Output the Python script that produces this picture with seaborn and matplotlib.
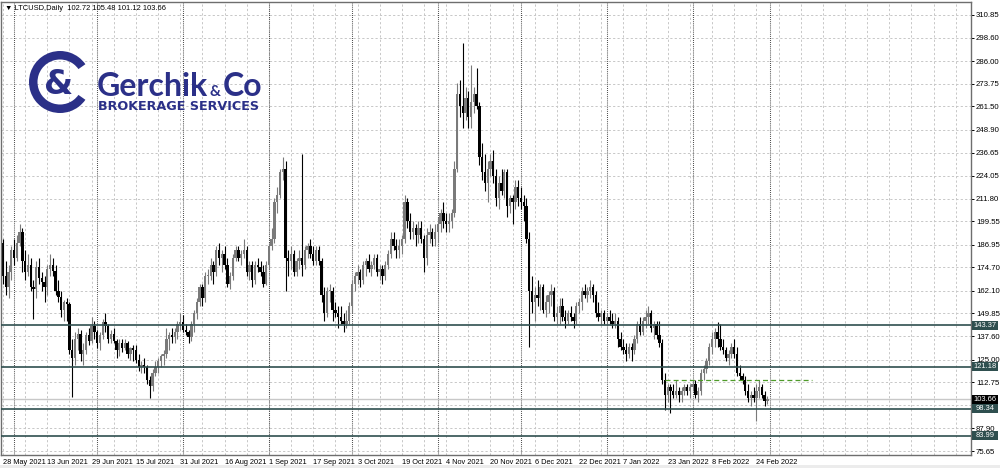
import numpy as np
import pandas as pd
import matplotlib
matplotlib.use("Agg")
import matplotlib.pyplot as plt
import seaborn as sns
from matplotlib.patches import Rectangle, Wedge
import matplotlib.transforms as mtrans

# ---------------- data ----------------
first_date = "2021-05-27"
first_open = 196.0

close_may = [188, 170, 164, 172, 184]
high_may = [200, 190, 178, 176, 186]
low_may = [186, 166, 160, 158, 168]

close_jun = [180, 188, 194, 178, 172, 176, 164, 163, 175, 169, 167, 164, 174, 176, 173,
             162, 159, 152, 156, 155, 130, 126, 136, 139, 128, 130, 138, 135, 143, 140]
high_jun = [190, 192, 198, 196, 184, 182, 180, 168, 178, 180, 172, 170, 176, 182, 180,
            176, 168, 162, 157, 158, 156, 136, 140, 142, 141, 134, 140, 142, 148, 146]
low_jun = [176, 178, 186, 172, 168, 170, 162, 147, 158, 166, 162, 156, 160, 170, 170,
           160, 156, 148, 146, 146, 128, 105, 122, 130, 124, 122, 128, 133, 134, 136]

close_jul = [134, 138, 145, 143, 136, 139, 135, 130, 134, 131, 134, 128, 131, 130, 125,
             121, 122, 121, 114, 111, 118, 121, 124, 127, 128, 136, 138, 137, 140, 144, 145]
high_jul = [141, 140, 147, 150, 144, 141, 142, 136, 136, 136, 136, 135, 132, 133, 133,
            128, 124, 126, 122, 116, 120, 124, 126, 128, 130, 142, 140, 142, 142, 146, 150]
low_jul = [131, 130, 136, 140, 134, 134, 134, 126, 127, 129, 130, 126, 125, 124, 123,
           119, 118, 118, 112, 104, 108, 116, 118, 121, 122, 126, 130, 134, 134, 136, 141]

close_aug = [141, 140, 137, 144, 150, 156, 164, 158, 170, 170, 176, 172, 184, 180, 182,
             176, 166, 170, 180, 184, 180, 182, 184, 172, 176, 168, 176, 175, 172, 166, 176]
high_aug = [149, 144, 141, 146, 152, 158, 166, 166, 172, 174, 180, 178, 186, 188, 184,
            186, 180, 172, 182, 186, 186, 184, 190, 186, 178, 178, 178, 180, 178, 176, 178]
low_aug = [140, 138, 134, 135, 140, 147, 154, 154, 156, 166, 168, 166, 170, 176, 172,
           174, 164, 163, 168, 178, 178, 176, 180, 170, 168, 164, 166, 172, 170, 164, 165]

close_sep = [186, 190, 210, 214, 226, 228, 180, 178, 182, 172, 178, 180, 176, 184, 186,
             182, 178, 184, 178, 160, 150, 162, 162, 152, 150, 148, 146, 144, 146, 154]
high_sep = [188, 196, 212, 218, 228, 234, 232, 184, 186, 184, 180, 184, 236, 186, 188,
            190, 186, 186, 186, 180, 164, 164, 166, 164, 156, 154, 154, 150, 152, 156]
low_sep = [174, 184, 188, 204, 212, 222, 162, 170, 174, 170, 170, 174, 170, 174, 180,
           180, 176, 176, 176, 156, 146, 148, 156, 146, 148, 142, 144, 140, 142, 144]

close_oct = [166, 170, 172, 168, 176, 178, 174, 176, 180, 172, 174, 170, 176, 182, 190,
             186, 184, 186, 190, 210, 200, 194, 196, 192, 196, 190, 180, 192, 194, 190, 194]
high_oct = [168, 172, 176, 174, 178, 180, 182, 178, 182, 182, 176, 176, 178, 184, 194,
            194, 190, 190, 192, 214, 212, 204, 200, 198, 200, 200, 192, 196, 198, 196, 198]
low_oct = [150, 162, 166, 164, 166, 170, 172, 170, 174, 170, 168, 166, 168, 174, 180,
           184, 180, 180, 182, 188, 196, 190, 190, 186, 188, 188, 172, 176, 188, 186, 186]

close_nov = [198, 204, 200, 198, 200, 204, 228, 268, 262, 258, 266, 256, 264, 268, 262,
             234, 226, 220, 228, 232, 224, 212, 220, 216, 226, 208, 212, 210, 218, 212]
high_nov = [202, 206, 210, 204, 204, 206, 232, 274, 276, 296, 272, 270, 284, 272, 282,
            264, 242, 236, 232, 236, 238, 228, 224, 228, 228, 228, 214, 214, 222, 222]
low_nov = [188, 194, 196, 194, 194, 196, 202, 226, 256, 250, 254, 250, 250, 258, 260,
           230, 222, 216, 210, 224, 220, 208, 206, 214, 212, 202, 204, 198, 206, 208]

close_dec = [210, 208, 190, 162, 156, 160, 158, 164, 152, 156, 160, 162, 148, 150, 154,
             148, 146, 150, 148, 146, 154, 156, 162, 160, 162, 164, 160, 150, 148, 150, 146]
high_dec = [218, 214, 212, 194, 170, 164, 168, 166, 166, 160, 162, 166, 164, 154, 158,
            158, 152, 152, 154, 150, 156, 158, 164, 166, 164, 168, 166, 162, 156, 152, 152]
low_dec = [206, 200, 188, 132, 150, 146, 154, 152, 150, 148, 150, 154, 146, 144, 144,
           146, 142, 144, 146, 142, 144, 150, 152, 158, 156, 158, 156, 148, 146, 144, 144]

close_jan = [148, 146, 144, 146, 136, 132, 130, 128, 132, 130, 136, 144, 140, 146, 148,
             150, 142, 144, 138, 134, 114, 106, 110, 108, 106, 108, 106, 108, 110, 108, 110]
high_jan = [150, 152, 150, 150, 148, 140, 136, 134, 134, 134, 138, 146, 148, 148, 152,
            154, 152, 146, 146, 146, 136, 118, 112, 112, 112, 114, 110, 110, 112, 112, 112]
low_jan = [144, 144, 142, 142, 132, 130, 128, 124, 126, 124, 128, 134, 138, 138, 142,
           144, 140, 136, 136, 132, 112, 98, 102, 96, 104, 104, 102, 102, 106, 106, 104]

close_feb = [112, 106, 108, 118, 120, 124, 132, 136, 140, 136, 132, 130, 126, 128, 132,
             128, 118, 116, 114, 108, 104, 106, 104, 108, 110, 106, 102.72, 103.66]
high_feb = [114, 114, 110, 120, 122, 126, 134, 140, 142, 145, 144, 136, 132, 130, 134,
            136, 132, 122, 118, 116, 112, 108, 110, 112, 114, 112, 108, 105.48]
low_feb = [108, 104, 102, 106, 114, 118, 122, 128, 132, 132, 130, 128, 124, 122, 126,
           126, 116, 114, 112, 106, 102, 100, 102, 92, 104, 104, 100, 101.12]

date_labels = ["28 May 2021", "13 Jun 2021", "29 Jun 2021", "15 Jul 2021", "31 Jul 2021",
               "16 Aug 2021", "1 Sep 2021", "17 Sep 2021", "3 Oct 2021", "19 Oct 2021",
               "4 Nov 2021", "20 Nov 2021", "6 Dec 2021", "22 Dec 2021", "7 Jan 2022",
               "23 Jan 2022", "8 Feb 2022", "24 Feb 2022"]
price_ticks = [310.85, 298.60, 286.00, 273.75, 261.50, 248.90, 236.65, 224.05, 211.80,
               199.55, 186.95, 174.70, 162.10, 149.85, 137.60, 125.00, 112.75, 100.30,
               87.90, 75.65]
hidden_tick = 100.30
levels = [143.37, 121.18, 98.34, 83.99]
bid_price = 103.66
green_level = 114.0
green_from, green_to = "2022-01-22", "2022-03-16"
title = "\u25BC LTCUSD,Daily  102.72 105.48 101.12 103.66"

# ---------------- assemble ----------------
close = np.array(close_may + close_jun + close_jul + close_aug + close_sep + close_oct +
                 close_nov + close_dec + close_jan + close_feb, dtype=float)
high = np.array(high_may + high_jun + high_jul + high_aug + high_sep + high_oct +
                high_nov + high_dec + high_jan + high_feb, dtype=float)
low = np.array(low_may + low_jun + low_jul + low_aug + low_sep + low_oct +
               low_nov + low_dec + low_jan + low_feb, dtype=float)
opn = np.concatenate([[first_open], close[:-1]])
dates = pd.date_range(first_date, periods=len(close), freq="D")
base = pd.Timestamp("2021-05-28")
df = pd.DataFrame({"date": dates, "open": opn, "high": high, "low": low, "close": close})
df["x"] = (df["date"] - base).dt.days
df["bull"] = df["close"] >= df["open"]

# ---------------- style ----------------
sns.set_style("white")
plt.rcParams["font.family"] = ["Liberation Sans", "DejaVu Sans"]

W, H = 1000, 468
fig = plt.figure(figsize=(W / 100, H / 100), dpi=100)
fig.patch.set_facecolor("white")

# bottom grey band (behind everything)
fig.patches.append(Rectangle((0, 0), 1, 3 / H, transform=fig.transFigure,
                             facecolor="#ececec", edgecolor="none", zorder=-10))

ax = fig.add_axes([1 / W, 1 - 455 / H, 970 / W, 453 / H])
ax.set_facecolor("white")
ax.set_xlim(-0.72, 349.5)
ax.set_ylim(73.52, 317.86)

grid_c = "#c8c8c8"
for p in price_ticks:
    ax.axhline(p, color=grid_c, lw=0.72, ls=(0, (2.2, 2.2)), zorder=0.5)
for gx in range(0, 350, 8):
    ax.axvline(gx, color=grid_c, lw=0.72, ls=(0, (2.2, 2.2)), zorder=0.5)

# month separators
month_starts = pd.date_range("2021-06-01", "2022-03-01", freq="MS")
for m in month_starts:
    ax.axvline((m - base).days, color="#303030", lw=0.75, ls=(0, (0.8, 1.2)), zorder=0.6)

# bid line
ax.axhline(bid_price, color="#c8c8c8", lw=1.0, zorder=0.8)

# candles
bull_c, bear_c = "#7a7a7a", "#000000"
bull = df[df["bull"]]
bear = df[~df["bull"]]
ax.vlines(bull["x"], bull["low"], bull["high"], color=bull_c, lw=0.8, zorder=2)
ax.vlines(bear["x"], bear["low"], bear["high"], color=bear_c, lw=0.8, zorder=2)
bh = np.maximum((bull["close"] - bull["open"]).values, 0.6)
ax.bar(bull["x"], bh, bottom=bull["open"].values, width=0.85, color=bull_c,
       edgecolor="none", zorder=2.1)
bh2 = np.maximum((bear["open"] - bear["close"]).values, 0.6)
ax.bar(bear["x"], bh2, bottom=bear["close"].values, width=0.85, color=bear_c,
       edgecolor="none", zorder=2.1)

# horizontal levels
lvl_c = "#2f4f4f"
for lv in levels:
    ax.axhline(lv, color=lvl_c, lw=1.2, zorder=3)
gx0 = (pd.Timestamp(green_from) - base).days
gx1 = (pd.Timestamp(green_to) - base).days
sns.lineplot(x=[gx0, gx1], y=[green_level, green_level], ax=ax, color="#4e9a28",
             lw=0.9, linestyle=(0, (4, 2.5)), zorder=3)

# axes spines / ticks
for s in ["left", "top", "bottom", "right"]:
    ax.spines[s].set_visible(True)
    ax.spines[s].set_color("#6e6e6e")
    ax.spines[s].set_linewidth(1.0)
ax.yaxis.tick_right()
ax.set_yticks(price_ticks)
ax.set_yticklabels(["" if p == hidden_tick else f"{p:.2f}" for p in price_ticks])
ax.tick_params(axis="y", which="both", direction="out", length=2.5, width=0.7,
               pad=1.0, labelsize=5.6, colors="black", right=True, left=False)
xt = [(pd.Timestamp(d) - base).days for d in date_labels]
ax.set_xticks(xt)
ax.set_xticklabels(date_labels)
ax.tick_params(axis="x", direction="out", length=2.0, width=0.7, pad=0.8,
               labelsize=5.3, colors="black")
for lbl in ax.get_xticklabels():
    lbl.set_ha("left")
ax.set_xlabel("")
ax.set_ylabel("")
ax.grid(False)

# price label boxes on the axis
btr = mtrans.blended_transform_factory(fig.transFigure, ax.transData)
box_h = 9 / 1.854
for lv, fc in [(levels[0], lvl_c), (levels[1], lvl_c), (bid_price, "#000000"),
               (levels[2], lvl_c), (levels[3], lvl_c)]:
    ax.add_patch(Rectangle((972 / W, lv - box_h / 2), 26 / W, box_h, transform=btr,
                           facecolor=fc, edgecolor="none", clip_on=False, zorder=6))
    ax.text(985 / W, lv, f"{lv:.2f}", transform=btr, color="white", fontsize=5.4,
            ha="center", va="center", zorder=7, clip_on=False)

# title
fig.text(5 / W, 1 - 8 / H, title, fontsize=5.4, ha="left", va="center", color="black")

# ---------------- logo overlay ----------------
ov = fig.add_axes([0, 0, 1, 1], zorder=5)
ov.set_xlim(0, W)
ov.set_ylim(H, 0)
ov.axis("off")
logo_c = "#2b3088"
ov.add_patch(Wedge((60, 82), 31, 35, 325, width=8.5, facecolor=logo_c, edgecolor="none"))
ov.text(59, 84, "&", fontsize=24, fontweight="bold", color=logo_c, ha="center",
        va="center", family="DejaVu Sans")
ov.text(97, 96, "Gerchik", fontsize=23, fontweight="bold", color=logo_c,
        ha="left", va="baseline", family="Lato")
ov.text(210, 96, "&", fontsize=11, fontweight="bold", color=logo_c,
        ha="left", va="baseline", family="Lato")
ov.text(223, 96, "Co", fontsize=23, fontweight="bold", color=logo_c,
        ha="left", va="baseline", family="Lato")
ov.text(98, 110, "BROKERAGE SERVICES", fontsize=9.2, fontweight="bold", color=logo_c,
        ha="left", va="baseline", family="DejaVu Sans")

fig.savefig("out.png", dpi=100)
